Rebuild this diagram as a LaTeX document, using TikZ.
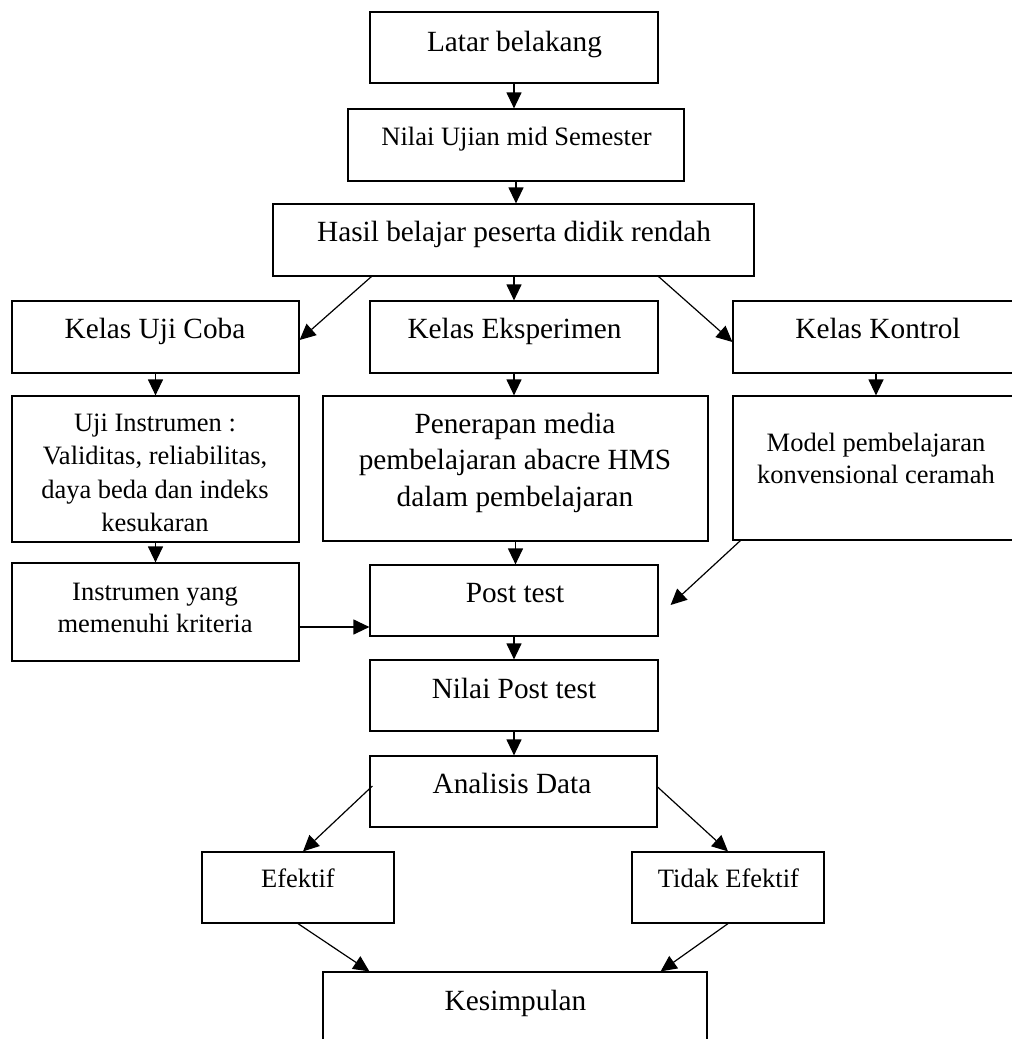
\documentclass[tikz,border=0pt]{standalone}
\usepackage{fontspec}
\setmainfont{Liberation Serif}
\usetikzlibrary{arrows.meta,calc}
\begin{document}
\begin{tikzpicture}[x=1pt,y=-1pt,
  box/.style={draw,line width=1.2pt,rectangle,inner sep=0pt},
  big/.style={font=\fontsize{29.3}{36.5}\selectfont,align=center,anchor=base,inner sep=0pt},
  small/.style={font=\fontsize{26.5}{33}\selectfont,align=center,anchor=base,inner sep=0pt},
  arr/.style={line width=1.2pt,-{Triangle[length=16pt,width=15pt]}}]
\path[use as bounding box,clip] (0,0) rectangle (1012,1039);
% boxes
\node[box,minimum width=288pt,minimum height=71pt] (latar) at (514,47.5) {};
\node[box,minimum width=336pt,minimum height=72pt] (nilaiujian) at (516,145) {};
\node[box,minimum width=481pt,minimum height=72pt] (hasil) at (513.5,240) {};
\node[box,minimum width=287pt,minimum height=72pt] (ujicoba) at (155.5,337) {};
\node[box,minimum width=288pt,minimum height=72pt] (eksperimen) at (514,337) {};
\node[box,minimum width=297pt,minimum height=72pt] (kontrol) at (881.5,337) {};
\node[box,minimum width=287pt,minimum height=146pt] (ujiinst) at (155.5,469) {};
\node[box,minimum width=385pt,minimum height=145pt] (penerapan) at (515.5,468.5) {};
\node[box,minimum width=297pt,minimum height=144pt] (model) at (881.5,468) {};
\node[box,minimum width=287pt,minimum height=98pt] (instyang) at (155.5,612) {};
\node[box,minimum width=288pt,minimum height=71pt] (posttest) at (514,600.5) {};
\node[box,minimum width=288pt,minimum height=71pt] (nilaipost) at (514,695.5) {};
\node[box,minimum width=287pt,minimum height=71pt] (analisis) at (513.5,791.5) {};
\node[box,minimum width=192pt,minimum height=71pt] (efektif) at (298,887.5) {};
\node[box,minimum width=192pt,minimum height=71pt] (tidak) at (728,887.5) {};
\node[box,minimum width=384pt,minimum height=88pt] (kesimpulan) at (515,1016) {};
% texts (multi-line nodes: base = last line baseline)
\node[big] (tlatar) at (514.5,51) {Latar belakang};
\node[small] (tnilaiujian) at (516.5,145.5) {Nilai Ujian mid Semester};
\node[big] (thasil) at (514,241) {Hasil belajar peserta didik rendah};
\node[big] (tujicoba) at (155,338) {Kelas Uji Coba};
\node[big] (teksperimen) at (514.5,338) {Kelas Eksperimen};
\node[big] (tkontrol) at (878,338) {Kelas Kontrol};
\node[small,font=\fontsize{26.5}{33.5}\selectfont] (tujiinst) at (155,531.5) {Uji Instrumen :\\Validitas, reliabilitas,\\daya beda dan indeks\\kesukaran};
\node[big] (tpenerapan) at (515,506) {Penerapan media\\pembelajaran abacre HMS\\dalam pembelajaran};
\node[small,font=\fontsize{26.5}{32}\selectfont] (tmodel) at (876,483) {Model pembelajaran\\konvensional ceramah};
\node[small,font=\fontsize{26.5}{32.5}\selectfont] (tinstyang) at (155,632.5) {Instrumen yang\\memenuhi kriteria};
\node[big] (tposttest) at (515,602) {Post test};
\node[big] (tnilaipost) at (514,698) {Nilai Post test};
\node[big] (tanalisis) at (512,793) {Analisis Data};
\node[small] (tefektif) at (298,887.5) {Efektif};
\node[small] (ttidak) at (728.5,887) {Tidak Efektif};
\node[big] (tkesimpulan) at (515.5,1010) {Kesimpulan};
% connectors
\coordinate (kx) at ([xshift=-5.5pt]kontrol.south);
\coordinate (ix) at ([yshift=-15pt]instyang.east);
\draw[arr] (latar.south) -- (latar.south |- nilaiujian.north);
\draw[arr] (nilaiujian.south) -- (nilaiujian.south |- hasil.north);
\draw[arr] (eksperimen.north |- hasil.south) -- (eksperimen.north);
\draw[arr] ([xshift=99pt]hasil.south west) -- ([yshift=-3pt]ujicoba.east);
\draw[arr] ([xshift=-96pt]hasil.south east) -- ([yshift=-5pt]kontrol.west);
\draw[arr] (ujicoba.south) -- (ujiinst.north);
\draw[arr] (eksperimen.south) -- (eksperimen.south |- penerapan.north);
\draw[arr] (kx) -- (kx |- model.north);
\draw[arr] (ujiinst.south) -- (instyang.north);
\draw[arr] (penerapan.south) -- (penerapan.south |- posttest.north);
\draw[arr] ([xshift=8pt]model.south west) -- ([xshift=12pt,yshift=-4.5pt]posttest.east);
\draw[arr] (ix) -- (ix -| posttest.west);
\draw[arr] (posttest.south) -- (posttest.south |- nilaipost.north);
\draw[arr] (nilaipost.south) -- (nilaipost.south |- analisis.north);
\draw[arr] ([xshift=3pt,yshift=5.5pt]analisis.west) -- ([xshift=5pt]efektif.north);
\draw[arr] ([yshift=4.5pt]analisis.east) -- (tidak.north);
\draw[arr] (efektif.south) -- ([xshift=47pt]kesimpulan.north west);
\draw[arr] (tidak.south) -- ([xshift=-47pt]kesimpulan.north east);
\end{tikzpicture}
\end{document}
